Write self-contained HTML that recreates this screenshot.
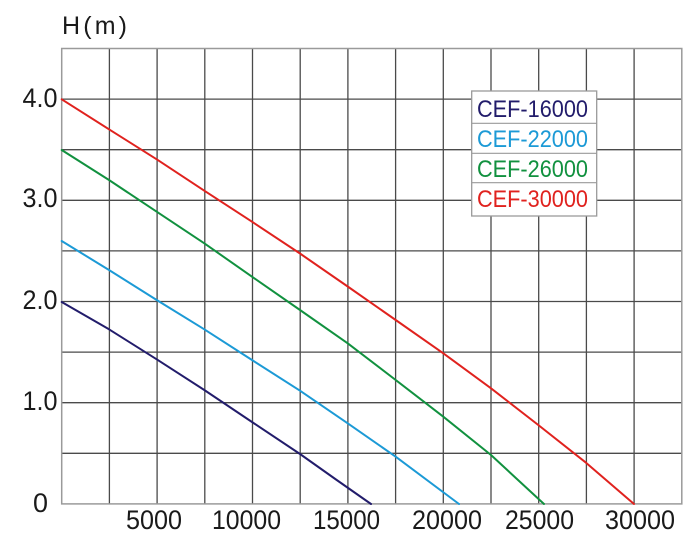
<!DOCTYPE html>
<html>
<head>
<meta charset="utf-8">
<style>
  html,body{margin:0;padding:0;background:#fff;}
  svg{display:block;}
  text{font-family:"Liberation Sans","DejaVu Sans",sans-serif;}
</style>
</head>
<body>
<svg width="700" height="557" viewBox="0 0 700 557" xmlns="http://www.w3.org/2000/svg">
  <rect x="0" y="0" width="700" height="557" fill="#fff"/>
  <!-- inner grid -->
  <g stroke="#4a4a4a" stroke-width="1.3" fill="none">
    <line x1="109.4" y1="48.5" x2="109.4" y2="504"/>
    <line x1="157.1" y1="48.5" x2="157.1" y2="504"/>
    <line x1="204.8" y1="48.5" x2="204.8" y2="504"/>
    <line x1="252.5" y1="48.5" x2="252.5" y2="504"/>
    <line x1="300.2" y1="48.5" x2="300.2" y2="504"/>
    <line x1="347.9" y1="48.5" x2="347.9" y2="504"/>
    <line x1="395.6" y1="48.5" x2="395.6" y2="504"/>
    <line x1="443.3" y1="48.5" x2="443.3" y2="504"/>
    <line x1="491" y1="48.5" x2="491" y2="504"/>
    <line x1="538.7" y1="48.5" x2="538.7" y2="504"/>
    <line x1="586.4" y1="48.5" x2="586.4" y2="504"/>
    <line x1="634.1" y1="48.5" x2="634.1" y2="504"/>
    <line x1="61.7" y1="99.1" x2="681.8" y2="99.1"/>
    <line x1="61.7" y1="149.7" x2="681.8" y2="149.7"/>
    <line x1="61.7" y1="200.3" x2="681.8" y2="200.3"/>
    <line x1="61.7" y1="250.9" x2="681.8" y2="250.9"/>
    <line x1="61.7" y1="301.5" x2="681.8" y2="301.5"/>
    <line x1="61.7" y1="352.1" x2="681.8" y2="352.1"/>
    <line x1="61.7" y1="402.7" x2="681.8" y2="402.7"/>
    <line x1="61.7" y1="453.3" x2="681.8" y2="453.3"/>
  </g>
  <!-- outer border -->
  <rect x="61.7" y="48.5" width="620.1" height="455.4" fill="none" stroke="#9a9a9a" stroke-width="1.5"/>

  <!-- curves -->
  <g fill="none" stroke-width="2" stroke-linejoin="round" stroke-linecap="round">
    <polyline stroke="#221c6b" points="61.7,302 109,329.3 156.7,359.3 204.3,390 252,422 300,454 336.7,480 371,504"/>
    <polyline stroke="#1c9ad6" points="61.7,241 109,270 156.7,300 204.3,329.3 252,360 300,390.7 347.7,423.3 395.7,456.7 459,504"/>
    <polyline stroke="#11913f" points="61.7,150 109,180 156.7,211.7 204.3,243.3 252,276.7 300,310 347.7,343.3 395.7,380 443.3,416.7 491,455 518,480 544,504"/>
    <polyline stroke="#e0221e" points="61.7,99.3 109,129.3 156.7,159.3 204.3,190.7 252,221.7 300,253.5 347.7,286.5 395.7,320 443.3,353.3 491,388.3 538.3,425 586,462.7 634,504"/>
  </g>

  <!-- legend -->
  <rect x="471.7" y="91" width="125" height="125" fill="#fff" stroke="#9a9a9a" stroke-width="1.3"/>
  <g stroke="#9a9a9a" stroke-width="1.2">
    <line x1="471.7" y1="123.3" x2="596.7" y2="123.3"/>
    <line x1="471.7" y1="153.3" x2="596.7" y2="153.3"/>
    <line x1="471.7" y1="182.7" x2="596.7" y2="182.7"/>
  </g>
  <g font-size="24">
    <text x="477" y="117" fill="#221c6b" textLength="111" lengthAdjust="spacingAndGlyphs">CEF-16000</text>
    <text x="477" y="147" fill="#1c9ad6" textLength="111" lengthAdjust="spacingAndGlyphs">CEF-22000</text>
    <text x="477" y="177" fill="#11913f" textLength="111" lengthAdjust="spacingAndGlyphs">CEF-26000</text>
    <text x="477" y="207" fill="#e0221e" textLength="111" lengthAdjust="spacingAndGlyphs">CEF-30000</text>
  </g>

  <!-- axis title -->
  <text x="62" y="34" font-size="25" fill="#1a1a1a" textLength="65" lengthAdjust="spacing">H(m)</text>

  <!-- y labels -->
  <g font-size="27" fill="#1a1a1a">
    <text x="22.5" y="107" textLength="35" lengthAdjust="spacingAndGlyphs">4.0</text>
    <text x="22.5" y="207" textLength="35" lengthAdjust="spacingAndGlyphs">3.0</text>
    <text x="22.5" y="309" textLength="35" lengthAdjust="spacingAndGlyphs">2.0</text>
    <text x="22.5" y="410" textLength="35" lengthAdjust="spacingAndGlyphs">1.0</text>
    <text x="33" y="512" textLength="15" lengthAdjust="spacingAndGlyphs">0</text>
  </g>

  <!-- x labels -->
  <g font-size="27" fill="#1a1a1a">
    <text x="126" y="529" textLength="56" lengthAdjust="spacingAndGlyphs">5000</text>
    <text x="212" y="529" textLength="69" lengthAdjust="spacingAndGlyphs">10000</text>
    <text x="313" y="529" textLength="67" lengthAdjust="spacingAndGlyphs">15000</text>
    <text x="412" y="529" textLength="70" lengthAdjust="spacingAndGlyphs">20000</text>
    <text x="505" y="529" textLength="69" lengthAdjust="spacingAndGlyphs">25000</text>
    <text x="605" y="529" textLength="70" lengthAdjust="spacingAndGlyphs">30000</text>
  </g>
</svg>
</body>
</html>
